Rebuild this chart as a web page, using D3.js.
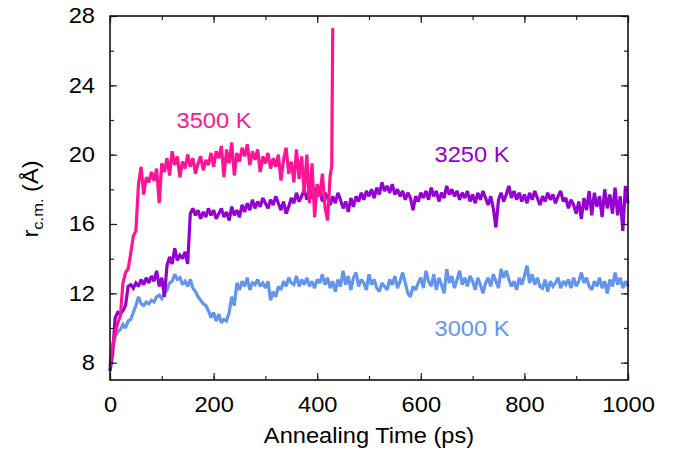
<!DOCTYPE html>
<html>
<head>
<meta charset="utf-8">
<script src="https://cdn.jsdelivr.net/npm/d3@7"></script>
<style>
  body { margin: 0; background: #fff; }
  text { font-family: "Liberation Sans", Helvetica, Arial, sans-serif; }
</style>
</head>
<body>
<div id="chart"></div>
<script>
var times = d3.range(0, 1001, 5);

var r3000 = [7.6,8.8,9.5,9.8,9.9,10.2,10.0,10.4,10.5,10.9,11.3,11.8,11.4,11.3,11.5,11.4,11.6,11.5,11.8,11.9,
  11.7,12.0,12.2,12.6,12.7,13.1,12.8,12.9,12.5,12.7,12.4,12.8,12.3,12.1,11.8,11.6,11.4,11.3,11.0,10.6,
  10.9,10.4,10.8,10.3,10.5,10.4,10.9,11.8,11.3,12.6,12.2,12.7,12.4,12.9,12.2,12.6,12.5,12.8,12.4,12.6,
  12.3,12.7,11.6,12.1,11.8,12.4,12.2,12.7,12.4,12.9,12.6,12.5,13.0,12.4,12.8,12.5,12.9,12.4,12.7,12.3,
  12.8,12.6,13.1,12.5,12.9,12.3,12.7,12.1,12.8,12.4,13.3,12.5,13.0,12.2,12.9,13.2,12.4,12.8,12.6,12.2,
  13.1,12.5,12.8,12.3,12.1,12.6,12.4,12.2,12.8,12.5,13.0,12.3,12.7,13.2,12.6,12.0,11.8,12.4,12.2,12.6,
  12.9,12.3,13.3,12.7,12.4,13.1,12.2,12.9,12.5,12.0,13.4,12.6,13.0,12.3,12.8,13.3,12.5,12.9,12.4,13.0,
  12.7,12.2,12.9,12.5,12.0,12.6,12.9,12.4,13.1,12.7,12.3,13.4,12.9,13.3,12.8,12.4,12.7,12.2,12.9,12.5,
  13.0,13.6,12.6,13.1,12.5,12.9,12.4,12.3,12.8,12.1,12.7,12.4,12.6,12.9,12.3,12.7,12.5,12.8,12.3,12.9,
  12.4,12.7,13.2,12.6,12.9,12.4,12.2,12.7,12.4,12.9,12.3,12.7,12.0,12.8,12.4,13.2,12.5,12.9,12.3,12.7,
  12.4];

var r3250 = [7.5,8.5,10.6,10.9,10.8,11.0,11.3,12.4,12.5,12.3,12.6,12.4,12.8,12.5,12.9,12.6,13.0,12.7,13.3,12.4,
  12.9,11.8,13.6,14.1,13.7,14.6,13.9,14.2,14.0,14.4,13.7,16.6,16.9,16.5,16.8,16.3,16.7,16.4,16.9,16.5,
  16.8,16.3,16.6,16.9,16.4,16.7,16.2,17.0,16.5,16.8,16.4,17.1,16.7,17.2,16.8,17.4,16.9,17.3,17.0,17.5,
  17.2,16.9,17.4,17.1,17.6,17.2,16.8,17.3,16.6,17.0,17.5,17.2,17.8,17.3,17.6,18.0,17.4,17.9,17.5,18.1,
  17.6,17.9,17.3,17.8,17.5,17.1,17.6,17.2,17.8,17.4,16.9,17.3,16.7,17.5,17.0,17.6,17.3,17.8,17.4,17.9,
  17.6,18.0,17.5,18.1,17.7,18.4,17.9,18.2,17.8,18.3,17.7,18.0,17.6,17.9,17.4,17.8,17.5,16.8,17.6,17.3,
  17.8,17.5,17.9,17.4,18.1,17.6,17.9,17.3,17.8,17.5,18.2,17.7,18.0,17.6,17.9,17.4,17.8,17.5,17.9,17.3,
  17.7,17.2,17.8,17.4,17.9,17.5,17.1,17.6,16.9,15.8,17.4,17.8,17.3,17.7,18.2,17.5,17.9,17.4,17.8,17.3,
  17.7,17.2,17.8,17.4,17.9,17.5,17.1,17.6,17.3,17.8,17.4,17.7,17.2,17.6,17.9,17.3,17.5,16.9,17.4,17.1,
  16.6,17.3,16.3,17.5,16.8,17.9,16.5,17.8,17.0,17.6,16.4,18.0,16.9,17.7,16.6,18.1,16.5,17.6,15.6,18.2,
  17.2];

var t3500 = d3.range(0, 426, 5).concat([428, 430]);
var r3500 = [7.8,9.0,9.7,10.3,10.7,12.6,13.2,13.4,14.3,15.3,15.6,18.3,19.3,17.7,18.7,18.4,19.0,18.5,19.2,17.2,
  19.5,19.0,19.8,18.8,20.2,19.4,19.9,18.7,19.6,19.2,20.0,19.3,19.8,18.9,19.5,19.9,19.1,19.7,19.4,20.1,
  19.3,20.2,19.8,20.5,18.7,20.3,19.5,20.7,18.8,20.1,19.6,20.4,19.9,20.6,19.4,20.2,19.7,20.3,19.0,19.9,
  19.5,20.1,19.2,19.8,19.3,20.0,18.5,19.7,20.4,18.9,19.6,18.4,20.3,18.6,19.9,17.8,20.0,17.2,19.5,16.4,
  18.3,17.6,18.9,17.0,16.2,18.8,19.3,27.3];

var xTicks = [0, 200, 400, 600, 800, 1000];
var yTicks = [8, 12, 16, 20, 24, 28];

var seriesNames = ["3000 K", "3250 K", "3500 K"];
var seriesColors = ["#6495ed", "#9400d3", "#ff1493"];

var width = 673, height = 456;
var margin = { top: 16, right: 45, bottom: 76, left: 110 };
var w = width - margin.left - margin.right;
var h = height - margin.top - margin.bottom;
var fontSize = 21.5, stretch = 1.1;

var svg = d3.select("#chart").append("svg")
    .attr("width", width)
    .attr("height", height);

var g = svg.append("g")
    .attr("transform", "translate(" + margin.left + "," + margin.top + ")");

var x = d3.scaleLinear().domain([0, 1000]).range([0, w]);
var y = d3.scaleLinear().domain([7, 28]).range([h, 0]);

var line = d3.line()
    .x(function(d) { return x(d[0]); })
    .y(function(d) { return y(d[1]); });

var data = [
  d3.zip(times, r3000),
  d3.zip(times, r3250),
  d3.zip(t3500, r3500)
];

g.selectAll(".series")
  .data(data)
  .enter()
  .append("path")
    .attr("class", "series")
    .attr("d", line)
    .attr("fill", "none")
    .attr("stroke", function(d, i) { return seriesColors[i]; })
    .attr("stroke-width", 3.2)
    .attr("stroke-linejoin", "miter")
    .attr("stroke-miterlimit", 2);

// minor ticks on all four sides
var minorX = d3.range(0, 1001, 100), minorY = d3.range(8, 28.1, 2);
g.append("g").attr("transform", "translate(0," + h + ")")
  .call(d3.axisBottom(x).tickValues(minorX).tickSize(-4).tickFormat(""));
g.append("g")
  .call(d3.axisTop(x).tickValues(minorX).tickSize(-4).tickFormat(""));
g.append("g")
  .call(d3.axisLeft(y).tickValues(minorY).tickSize(-4).tickFormat(""));
g.append("g").attr("transform", "translate(" + w + ",0)")
  .call(d3.axisRight(y).tickValues(minorY).tickSize(-4).tickFormat(""));

// major ticks
var xAxis = g.append("g").attr("transform", "translate(0," + h + ")")
  .call(d3.axisBottom(x).tickValues(xTicks).tickSize(-7).tickPadding(17).tickFormat(d3.format("d")));
g.append("g")
  .call(d3.axisTop(x).tickValues(xTicks).tickSize(-7).tickFormat(""));
var yAxis = g.append("g")
  .call(d3.axisLeft(y).tickValues(yTicks).tickSize(-7).tickPadding(15).tickFormat(d3.format("d")));
g.append("g").attr("transform", "translate(" + w + ",0)")
  .call(d3.axisRight(y).tickValues(yTicks).tickSize(-7).tickFormat(""));

g.selectAll(".domain").remove();
g.selectAll(".tick line").attr("stroke", "#222").attr("stroke-width", 1.2);

xAxis.selectAll("text")
    .attr("font-size", fontSize)
    .attr("fill", "#000")
    .attr("font-family", null)
    .attr("transform", "scale(" + stretch + ",1)");
yAxis.selectAll("text")
    .attr("font-size", fontSize)
    .attr("fill", "#000")
    .attr("font-family", null)
    .attr("x", 0)
    .attr("transform", "translate(-15,0) scale(" + stretch + ",1)");

// frame
g.append("rect")
    .attr("width", w)
    .attr("height", h)
    .attr("fill", "none")
    .attr("stroke", "#111")
    .attr("stroke-width", 1.6);

// axis titles
svg.append("text")
    .attr("text-anchor", "middle")
    .attr("font-size", fontSize)
    .attr("transform", "translate(" + (margin.left + w / 2) + ",443) scale(" + stretch + ",1)")
    .text("Annealing Time (ps)");

var yt = svg.append("text")
    .attr("text-anchor", "middle")
    .attr("font-size", fontSize)
    .attr("transform", "translate(38,199) rotate(-90) scale(" + stretch + ",1)");
yt.append("tspan").text("r");
yt.append("tspan").attr("font-size", 15).attr("dy", 5).text("c.m.");
yt.append("tspan").attr("dy", -5).text(" (Å)");

// series labels
var labelPos = [[472, 336], [472, 162], [214, 128]];
svg.selectAll(".lab")
  .data(seriesNames)
  .enter()
  .append("text")
    .attr("class", "lab")
    .attr("text-anchor", "middle")
    .attr("font-size", fontSize)
    .attr("fill", function(d, i) { return seriesColors[i]; })
    .attr("transform", function(d, i) {
      return "translate(" + labelPos[i][0] + "," + labelPos[i][1] + ") scale(" + stretch + ",1)";
    })
    .text(function(d) { return d; });
</script>
</body>
</html>
